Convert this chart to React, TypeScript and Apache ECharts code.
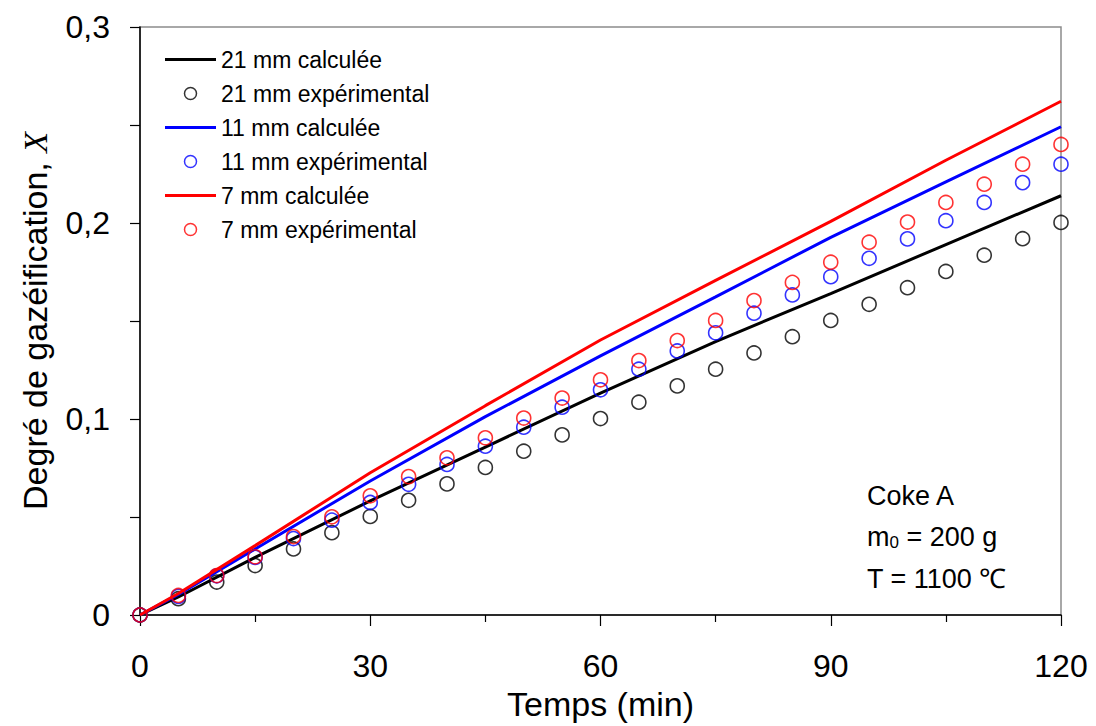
import React, { useEffect, useRef } from "react";
import * as echarts from "echarts";

// Experimental time points (min)
const expTime = [0, 5, 10, 15, 20, 25, 30, 35, 40, 45, 50, 55, 60, 65, 70, 75, 80, 85, 90, 95, 100, 105, 110, 115, 120];
const exp21 = [0, 0.0083, 0.0168, 0.0252, 0.0337, 0.042, 0.0503, 0.0585, 0.0669, 0.0753, 0.0836, 0.0919, 0.1002, 0.1086, 0.1169, 0.1254, 0.1337, 0.142, 0.1503, 0.1585, 0.167, 0.1753, 0.1836, 0.192, 0.2003];
const exp11 = [0, 0.0095, 0.02, 0.0294, 0.039, 0.0484, 0.0574, 0.0667, 0.0768, 0.0861, 0.0958, 0.106, 0.1149, 0.1254, 0.1347, 0.144, 0.154, 0.1633, 0.1726, 0.182, 0.1919, 0.2012, 0.2105, 0.2206, 0.23];
const exp7 = [0, 0.01, 0.0201, 0.0297, 0.04, 0.0501, 0.0608, 0.0706, 0.0802, 0.0904, 0.1005, 0.1107, 0.12, 0.1298, 0.14, 0.1503, 0.1604, 0.1697, 0.18, 0.1902, 0.2005, 0.2105, 0.2198, 0.23, 0.2401];

// Calculated curves
const calcTime = [0, 5, 15, 30, 45, 60, 75, 90, 105, 120];
const calc21 = [0, 0.0092, 0.0294, 0.0582, 0.0857, 0.1132, 0.1395, 0.164, 0.189, 0.2139];
const calc11 = [0, 0.0105, 0.0337, 0.0684, 0.1012, 0.1322, 0.1623, 0.1927, 0.221, 0.2491];
const calc7 = [0, 0.011, 0.0354, 0.0726, 0.1068, 0.1403, 0.1707, 0.2008, 0.232, 0.2621];

const names = [
  "21 mm calculée",
  "21 mm expérimental",
  "11 mm calculée",
  "11 mm expérimental",
  "7 mm calculée",
  "7 mm expérimental",
];
const colors = ["#000000", "#0000ff", "#ff0000"];

const FONT = "Liberation Sans, Arial, sans-serif";
const LINE_ICON = "path://M0,0L51,0L51,3L0,3Z";
const CIRCLE_ICON = "path://M12,6A6,6,0,1,1,0,6A6,6,0,1,1,12,6Z";

function pairs(xs: number[], ys: number[]) {
  return xs.map((x, i) => [x, ys[i]]);
}

export default function App() {
  const ref = useRef<HTMLDivElement>(null);
  useEffect(() => {
    if (!ref.current) return;
    const chart = echarts.init(ref.current, null, { renderer: "svg" });
    const calcs = [calc21, calc11, calc7];
    const exps = [exp21, exp11, exp7];
    const series: any[] = [];
    for (let k = 0; k < 3; k++) {
      series.push({
        name: names[k * 2],
        type: "line",
        data: pairs(calcTime, calcs[k]),
        showSymbol: false,
        symbol: "none",
        lineStyle: { color: colors[k], width: 3 },
        itemStyle: { color: colors[k] },
        z: 2 + k * 2,
      });
      series.push({
        name: names[k * 2 + 1],
        type: "scatter",
        data: pairs(expTime, exps[k]),
        symbol: "circle",
        symbolSize: 14,
        itemStyle: { color: "rgba(0,0,0,0)", borderColor: colors[k], borderWidth: 1.6 },
        z: 3 + k * 2,
      });
    }
    const legendData = names.map((n, i) => {
      const c = colors[Math.floor(i / 2)];
      return i % 2 === 0
        ? { name: n, icon: LINE_ICON, itemStyle: { color: c, borderWidth: 0 } }
        : { name: n, icon: CIRCLE_ICON, itemStyle: { color: "rgba(0,0,0,0)", borderColor: c, borderWidth: 1.5 } };
    });
    chart.setOption({
      animation: false,
      backgroundColor: "#ffffff",
      textStyle: { fontFamily: FONT },
      grid: {
        left: 140,
        top: 27,
        right: 35,
        bottom: 108,
        show: true,
        borderColor: "#8c8c8c",
        borderWidth: 1.5,
      },
      legend: {
        orient: "vertical",
        left: 165,
        top: 48,
        padding: 0,
        itemWidth: 51,
        itemHeight: 12,
        itemGap: 11,
        symbolKeepAspect: true,
        selectedMode: false,
        textStyle: { fontFamily: FONT, fontSize: 23, color: "#000" },
        data: legendData,
      },
      xAxis: {
        type: "value",
        min: 0,
        max: 120,
        interval: 30,
        name: "Temps (min)",
        nameLocation: "middle",
        nameGap: 72,
        nameTextStyle: { fontFamily: FONT, fontSize: 34, color: "#000" },
        axisLine: { show: true, onZero: false, lineStyle: { color: "#000", width: 1.5 } },
        axisTick: { show: true, inside: false, length: 11, lineStyle: { color: "#000", width: 1.2 } },
        minorTick: { show: true, splitNumber: 2, length: 7, lineStyle: { color: "#000", width: 1.2 } },
        splitLine: { show: false },
        axisLabel: { fontFamily: FONT, fontSize: 32, color: "#000", margin: 35 },
      },
      yAxis: {
        type: "value",
        min: 0,
        max: 0.3,
        interval: 0.05,
        name: "Degré de gazéification, {x|X}",
        nameLocation: "middle",
        nameGap: 88,
        nameTextStyle: {
          fontFamily: FONT,
          fontSize: 34,
          color: "#000",
          rich: { x: { fontFamily: "Liberation Serif, Times New Roman, serif", fontStyle: "italic", fontSize: 34, color: "#000" } },
        },
        axisLine: { show: true, onZero: false, lineStyle: { color: "#000", width: 1.5 } },
        axisTick: { show: true, inside: false, length: 10, lineStyle: { color: "#000", width: 1.2 } },
        splitLine: { show: false },
        axisLabel: {
          fontFamily: FONT,
          fontSize: 32,
          color: "#000",
          margin: 30,
          formatter: (v: number) => {
            const k = Math.round(v * 20);
            if (k % 2 !== 0) return "";
            const val = Math.round(v * 10) / 10;
            return String(val).replace(".", ",");
          },
        },
      },
      graphic: [
        {
          type: "text",
          left: 867,
          top: 482,
          style: { text: "Coke A", fontFamily: FONT, fontSize: 27, fill: "#000" },
        },
        {
          type: "text",
          left: 867,
          top: 523,
          style: {
            text: "m{s|0} = 200 g",
            fontFamily: FONT,
            fontSize: 27,
            fill: "#000",
            rich: { s: { fontFamily: FONT, fontSize: 17, padding: [12, 0, 0, 0] } },
          },
        },
        {
          type: "text",
          left: 867,
          top: 565,
          style: { text: "T = 1100 \u2103", fontFamily: FONT, fontSize: 27, fill: "#000" },
        },
      ],
      series,
    });
    return () => chart.dispose();
  }, []);
  return <div ref={ref} style={{ width: 1096, height: 726, position: "absolute", left: 0, top: 0 }} />;
}
